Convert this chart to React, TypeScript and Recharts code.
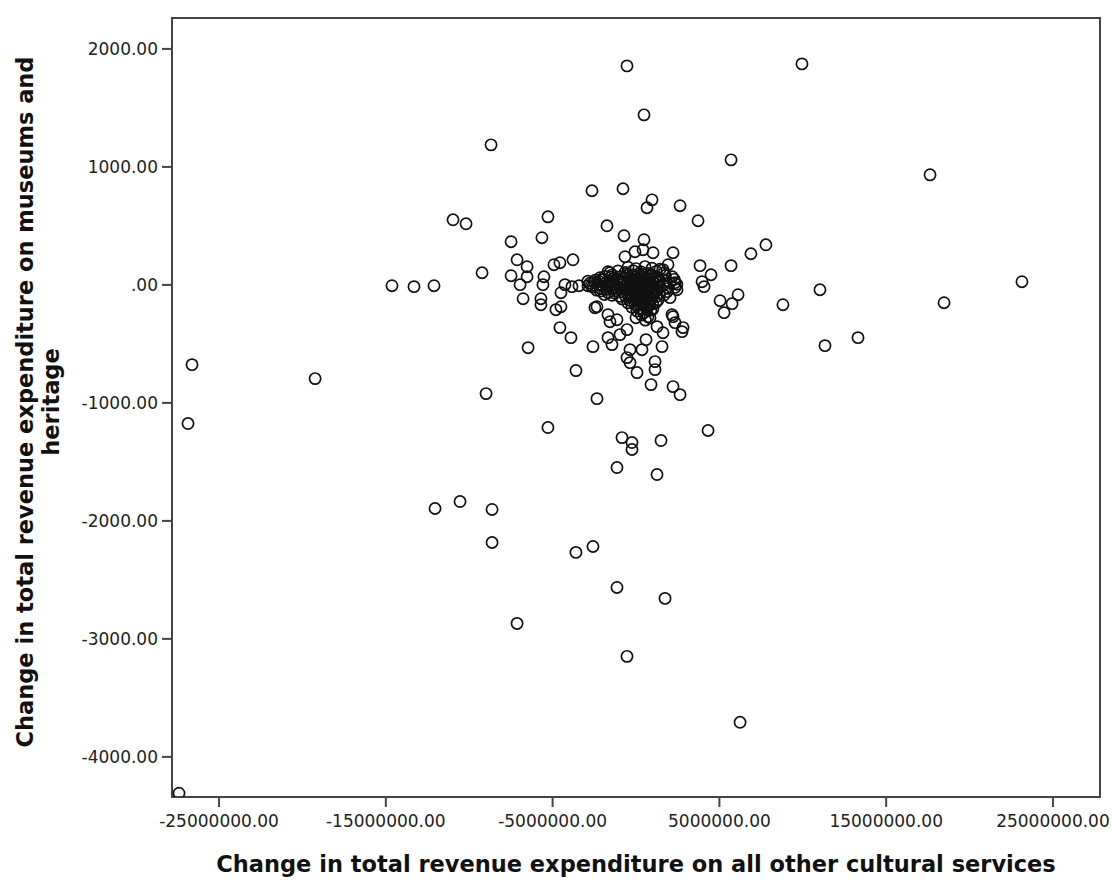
import { Label, ReferenceArea, Scatter, ScatterChart, XAxis, YAxis } from "recharts";

// change in other cultural services (x) vs change in museums & heritage (y)
const outerPoints: [number, number][] = [
  [-540000, 1856], [9950000, 1873], [480000, 1441], [-8690000, 1187], [5700000, 1060],
  [17630000, 933], [-2640000, 798], [-780000, 815], [960000, 721], [660000, 654],
  [2640000, 671], [-5280000, 577], [-10970000, 552], [-10190000, 518], [3720000, 544],
  [-1740000, 501], [-5640000, 400], [-720000, 417], [-7490000, 366], [480000, 383],
  [7790000, 340], [6890000, 264], [5700000, 163], [3840000, 163], [4500000, 86],
  [3960000, 27], [4080000, -15], [6120000, -83], [11030000, -41], [5040000, -134],
  [5760000, -159], [5280000, -235], [8810000, -168], [23140000, 27], [18470000, -151],
  [11330000, -515], [13310000, -447], [-3780000, 213], [-4920000, 171], [-7130000, 213],
  [-6530000, 154], [-9230000, 103], [-7490000, 78], [-6530000, 69], [-5520000, 69],
  [-5580000, 2], [-6950000, 2], [-6770000, -117], [-5700000, -117], [-5700000, -168],
  [-4500000, -66], [-4800000, -210], [-4500000, -185], [-4560000, -362], [-3900000, -447],
  [-6470000, -532], [-3600000, -726], [-8990000, -921], [-2340000, -964], [-5280000, -1209],
  [4320000, -1234], [-840000, -1294], [-240000, -1336], [-240000, -1395], [1500000, -1319],
  [-1140000, -1548], [1260000, -1607], [-12050000, -1895], [-10550000, -1836], [-8630000, -1903],
  [-8630000, -2183], [-3600000, -2267], [-2580000, -2217], [-1140000, -2564], [1740000, -2657],
  [-7130000, -2869], [-540000, -3148], [6240000, -3707], [-14630000, -7], [-13310000, -15],
  [-12110000, -7], [-26620000, -676], [-19240000, -794], [-26860000, -1175], [-27400000, -4308],
];

const midPoints: [number, number][] = [
  [-1680000, -447], [-1440000, -506], [-2580000, -523], [-540000, -616], [-360000, -659],
  [60000, -743], [360000, -549], [-360000, -549], [900000, -845], [1140000, -650],
  [1140000, -718], [1560000, -523], [2220000, -862], [2640000, -930], [2760000, -396],
  [2160000, -252], [2340000, -320], [2220000, 273], [1920000, 171], [1020000, 273],
  [-660000, 239], [-60000, 281], [420000, 298], [-1680000, 112], [-2340000, -185],
  [-1680000, -252], [-1560000, -312], [-1140000, -295], [-2880000, -7], [-3420000, -7],
  [-3840000, -15], [-4260000, 2], [-4560000, 188], [-1560000, 103], [-2160000, 61],
  [-2460000, -193], [-540000, -379], [1620000, -405], [1260000, -354], [2820000, -362],
  [2220000, -269], [2040000, -108], [2460000, -41], [2340000, 19], [1620000, 129],
  [600000, -464], [0, -278], [-960000, -421], [840000, -278],
];

const corePoints: [number, number][] = [
  [-480000, 150], [0, 138], [540000, 155], [960000, 141], [1440000, 133],
  [-1080000, 118], [-660000, 105], [-170000, 121], [310000, 109], [730000, 97], [1220000, 115], [1690000, 102],
  [-1850000, 72], [-1420000, 85], [-950000, 70], [-470000, 81], [-40000, 66], [380000, 88],
  [850000, 74], [1290000, 63], [1760000, 80], [2170000, 69],
  [-2450000, 39], [-2020000, 51], [-1560000, 33], [-1130000, 48], [-720000, 55], [-290000, 37],
  [130000, 46], [560000, 29], [980000, 52], [1390000, 41], [1810000, 35], [2290000, 47],
  [-2770000, 14], [-2290000, 3], [-1810000, 18], [-1330000, 6], [-900000, -2], [-480000, 12],
  [-60000, 21], [350000, 0], [790000, 15], [1190000, 8], [1620000, -4], [2030000, 17], [2450000, 5],
  [-2580000, -19], [-2110000, -31], [-1600000, -15], [-1150000, -28], [-690000, -12], [-230000, -35],
  [170000, -22], [600000, -9], [1030000, -38], [1430000, -17], [1920000, -29], [2340000, -21],
  [-2130000, -52], [-1680000, -66], [-1220000, -49], [-750000, -61], [-300000, -70],
  [130000, -55], [560000, -63], [980000, -47], [1390000, -72], [1870000, -57],
  [-1440000, -88], [-960000, -97], [-480000, -84], [-50000, -102], [390000, -93],
  [790000, -80], [1210000, -99], [1680000, -86],
  [-840000, -119], [-370000, -131], [60000, -122], [470000, -137], [900000, -116], [1330000, -128],
  [-490000, -152], [-60000, -166], [360000, -155], [780000, -171], [1200000, -148],
  [-250000, -188], [170000, -199], [600000, -184], [1010000, -205],
  [50000, -221], [480000, -236], [890000, -214],
  [320000, -255], [720000, -270], [560000, -298],
  [-200000, -5], [100000, 30], [400000, -45], [700000, 20], [250000, -80], [-100000, -60],
  [550000, 60], [850000, -20], [0, 0], [300000, 10], [450000, -110], [150000, -140],
];

// densest part of the cloud, near the origin
const centerPoints: [number, number][] = [
  [-820000, 22], [-610000, -41], [-380000, 58], [-150000, -18], [80000, 11], [270000, -33],
  [490000, 38], [670000, -51], [910000, 4], [1110000, -66], [1320000, 27], [-560000, 91],
  [-270000, -96], [20000, -74], [230000, 71], [440000, -8], [640000, -117], [830000, 45],
  [1050000, -12], [1260000, -44], [-700000, 31], [-420000, -22], [-180000, 84], [60000, -39],
  [290000, -128], [510000, -74], [730000, -29], [960000, -93], [1160000, 56], [-330000, -3],
  [-90000, 47], [190000, 16], [380000, -62], [620000, 7], [840000, -140], [1040000, 23],
  [-520000, -68], [-20000, -135], [410000, 64], [760000, -98], [220000, -171], [660000, -205],
  [-240000, 26], [520000, -157], [1000000, -161], [-640000, -95], [150000, 92], [900000, 88],
];

// left arm of the cloud, along the zero line
const leftArmPoints: [number, number][] = [
  [-2680000, -6], [-2510000, 21], [-2360000, -44], [-2200000, 28], [-2050000, -9],
  [-1940000, 44], [-1760000, -38], [-1620000, 12], [-1480000, -27], [-1370000, 55],
  [-1260000, -71], [-1020000, 16], [-2890000, 31], [-1900000, -81], [-1510000, 66],
];

const xTicks = [-25000000, -15000000, -5000000, 5000000, 15000000, 25000000];
const yTicks = [-4000, -3000, -2000, -1000, 0, 1000, 2000];
const xDomain: [number, number] = [-27820000, 27820000];
const yDomain: [number, number] = [-4340, 2262];

const points = [...outerPoints, ...midPoints, ...corePoints, ...centerPoints, ...leftArmPoints].map(
  ([x, y]) => ({ x, y })
);

const fmt = (v: number) => (v === 0 ? ".00" : v.toFixed(2));

const AXIS = "#444";
const tickStyle = { fontSize: 17, fill: "#222", fontFamily: "DejaVu Sans" };
const labelStyle = { fontSize: 22.5, fontWeight: 700, fill: "#111", fontFamily: "DejaVu Sans" };

function Ring(props: any) {
  return <circle cx={props.cx} cy={props.cy} r={5.6} fill="none" stroke="#111" strokeWidth={1.7} />;
}

export default function App() {
  return (
    <div style={{ position: "absolute", left: 0, top: 0, background: "#fff" }}>
      <ScatterChart width={1112} height={880} margin={{ top: 18, right: 12, bottom: 0, left: 0 }}>
        <XAxis
          type="number"
          dataKey="x"
          domain={xDomain}
          ticks={xTicks}
          tickFormatter={fmt}
          allowDataOverflow
          height={83}
          tick={tickStyle}
          tickSize={10}
          tickMargin={8}
          axisLine={{ stroke: AXIS, strokeWidth: 2 }}
          tickLine={{ stroke: AXIS, strokeWidth: 2 }}
        >
          <Label
            content={() => (
              <text x={636} y={872} textAnchor="middle" style={labelStyle}>
                Change in total revenue expenditure on all other cultural services
              </text>
            )}
          />
        </XAxis>
        <YAxis
          type="number"
          dataKey="y"
          domain={yDomain}
          ticks={yTicks}
          tickFormatter={fmt}
          allowDataOverflow
          width={172}
          tick={tickStyle}
          tickSize={10}
          tickMargin={4}
          axisLine={{ stroke: AXIS, strokeWidth: 2 }}
          tickLine={{ stroke: AXIS, strokeWidth: 2 }}
        >
          <Label
            content={() => (
              <g transform="translate(0 402) rotate(-90)">
                <text x={0} y={33} textAnchor="middle" style={labelStyle}>
                  Change in total revenue expenditure on museums and
                </text>
                <text x={0} y={59} textAnchor="middle" style={labelStyle}>
                  heritage
                </text>
              </g>
            )}
          />
        </YAxis>
        <ReferenceArea
          x1={xDomain[0]}
          x2={xDomain[1]}
          y1={yDomain[0]}
          y2={yDomain[1]}
          fill="none"
          stroke={AXIS}
          strokeWidth={2}
        />
        <Scatter data={points} shape={Ring} isAnimationActive={false} />
      </ScatterChart>
    </div>
  );
}
